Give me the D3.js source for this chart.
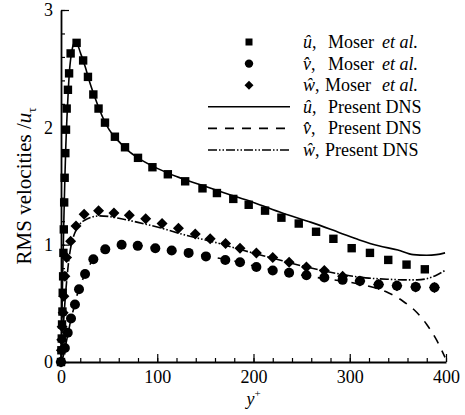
<html>
<head>
<style>
  body { margin: 0; background: #fff; }
  text { font-family: "Liberation Serif", "Times New Roman", serif; fill: #000; }
</style>
</head>
<body>
<div id="chart"></div>
<script src="https://cdn.jsdelivr.net/npm/d3@7"></script>
<script>
// u-hat, Moser et al. (squares)
var uMoserY = [0, 0.4, 0.8, 1.1, 1.5, 1.8, 2.2, 2.5, 2.9, 3.3, 3.8, 4.5, 5.2, 5.9, 7.2, 8.4, 10, 16.2,
               23, 28, 33.6, 39, 45.7, 56, 66.5, 80, 95, 111, 129, 147, 162, 179, 195, 212, 229, 247,
               265, 283, 302, 321, 340, 359, 378];
var uMoser  = [0, 0.1, 0.2, 0.32, 0.43, 0.59, 0.73, 0.93, 1.13, 1.36, 1.57, 1.78, 1.98, 2.16, 2.32, 2.46, 2.63, 2.72,
               2.57, 2.43, 2.28, 2.16, 2.04, 1.92, 1.83, 1.74, 1.66, 1.60, 1.54, 1.48, 1.44, 1.39, 1.34, 1.29, 1.23, 1.18,
               1.11, 1.05, 0.97, 0.93, 0.87, 0.83, 0.79];

// v-hat, Moser et al. (circles)
var vMoserY = [0, 4, 7, 10.4, 14.5, 18.7, 25, 33.6, 46, 63, 79.7, 98, 115, 132.6, 150.6, 170.7, 186, 203,
               220, 237, 255, 273.6, 292.6, 310.6, 330, 349, 368.5, 388];
var vMoser  = [0, 0.12, 0.25, 0.37, 0.49, 0.62, 0.75, 0.875, 0.96, 1.0, 0.99, 0.97, 0.95, 0.93, 0.90, 0.87, 0.85, 0.81,
               0.78, 0.76, 0.74, 0.72, 0.70, 0.69, 0.66, 0.65, 0.64, 0.635];

// w-hat, Moser et al. (diamonds)
var wMoserY = [0, 0.4, 0.8, 1.2, 2.3, 3, 4, 5.8, 10, 15.6, 24, 39, 55, 71, 88, 105, 122, 139.5, 155, 171,
               186, 203, 220, 237, 255, 273.6, 292.6, 310.6, 330, 349, 368.5, 388];
var wMoser  = [0, 0.1, 0.19, 0.30, 0.42, 0.56, 0.73, 0.89, 1.03, 1.16, 1.26, 1.29, 1.27, 1.25, 1.22, 1.18, 1.14, 1.09, 1.05, 1.01,
               0.97, 0.93, 0.89, 0.85, 0.81, 0.78, 0.73, 0.69, 0.66, 0.65, 0.64, 0.635];

// present DNS
var uDnsY = [0, 1, 2, 3, 4, 5, 6, 7, 8, 9, 10, 12, 14.5, 17, 20, 25, 30, 35, 40, 50, 60, 70, 80, 100, 120, 145,
             170, 200, 230, 260, 290, 310, 330, 350, 366, 380, 390, 399];
var uDns  = [0, 0.42, 0.84, 1.22, 1.56, 1.84, 2.05, 2.22, 2.38, 2.5, 2.58, 2.68, 2.73, 2.71, 2.64, 2.52, 2.38, 2.26, 2.15, 1.98, 1.88, 1.80, 1.74, 1.65, 1.58, 1.51,
             1.44, 1.36, 1.27, 1.19, 1.10, 1.04, 0.99, 0.955, 0.915, 0.91, 0.915, 0.93];

var vDnsY = [0, 2, 4, 6, 8, 10, 13, 16, 20, 25, 30, 40, 50, 60, 70, 80, 100, 120, 150, 180,
             210, 240, 270, 300, 320, 340, 355, 370, 380, 390, 399];
var vDns  = [0, 0.04, 0.11, 0.19, 0.27, 0.35, 0.45, 0.55, 0.65, 0.75, 0.83, 0.93, 0.97, 0.99, 1.0, 0.995, 0.97, 0.945, 0.905, 0.86,
             0.80, 0.755, 0.715, 0.68, 0.645, 0.59, 0.52, 0.42, 0.32, 0.19, 0.04];

var wDnsY = [0, 2, 4, 6, 8, 10, 13, 16, 20, 25, 30, 40, 50, 60, 80, 100, 130, 160, 190, 220,
             250, 280, 300, 320, 340, 360, 370, 380, 390, 399];
var wDns  = [0, 0.25, 0.5, 0.7, 0.86, 0.97, 1.07, 1.13, 1.18, 1.21, 1.23, 1.245, 1.24, 1.225, 1.19, 1.15, 1.08, 1.02, 0.95, 0.885,
             0.82, 0.765, 0.735, 0.715, 0.705, 0.70, 0.70, 0.71, 0.74, 0.78];

var xMajor = [0, 100, 200, 300, 400];
var yMajor = [0, 1, 2, 3];

var width = 465, height = 415;

var svg = d3.select("#chart").append("svg")
    .attr("width", width)
    .attr("height", height);

var x = d3.scaleLinear().domain([0, 400]).range([61, 446]);
var y = d3.scaleLinear().domain([0, 3]).range([362, 10]);

function zip(xs, ys) {
  return xs.map(function(v, i) { return [v, ys[i]]; });
}

var line = d3.line()
    .x(function(d) { return x(d[0]); })
    .y(function(d) { return y(d[1]); })
    .curve(d3.curveMonotoneX);

// axes, ticks pointing inward
var xMinor = d3.range(0, 401, 20);
var yMinorT = d3.range(0, 3.01, 0.2);

svg.append("g")
   .attr("transform", "translate(0," + y(0) + ")")
   .call(d3.axisBottom(x).tickValues(xMinor).tickSize(-4).tickFormat(""))
   .call(function(g) { g.select(".domain").remove(); });

svg.append("g")
   .attr("transform", "translate(" + x(0) + ",0)")
   .call(d3.axisLeft(y).tickValues(yMinorT).tickSize(-4).tickFormat(""))
   .call(function(g) { g.select(".domain").remove(); });

var xAxis = svg.append("g")
   .attr("transform", "translate(0," + y(0) + ")")
   .call(d3.axisBottom(x).tickValues(xMajor).tickSizeInner(-8).tickSizeOuter(0).tickPadding(8));

var yAxis = svg.append("g")
   .attr("transform", "translate(" + x(0) + ",0)")
   .call(d3.axisLeft(y).tickValues(yMajor).tickSizeInner(-8).tickSizeOuter(0).tickPadding(8).tickFormat(d3.format("d")));

svg.selectAll(".tick line").attr("stroke", "#000").attr("stroke-width", 1.2);
svg.selectAll(".domain").attr("stroke", "#000").attr("stroke-width", 1.8);
svg.selectAll(".tick text")
   .style("font-family", "'Liberation Serif', serif")
   .style("font-size", "18px")
   .attr("fill", "#000");

// axis titles
var xl = svg.append("text")
   .attr("x", x(200))
   .attr("y", 405)
   .attr("text-anchor", "middle")
   .style("font-size", "18px");
xl.append("tspan").style("font-style", "italic").text("y");
xl.append("tspan").attr("dy", -8).style("font-size", "11px").text("+");

var yl = svg.append("text")
   .attr("transform", "translate(31," + y(1.5) + ") rotate(-90)")
   .attr("text-anchor", "middle")
   .style("font-size", "21px");
yl.append("tspan").text("RMS velocities /");
yl.append("tspan").style("font-style", "italic").text("u");
yl.append("tspan").attr("dy", 5).style("font-size", "13px").text("\u03c4");

// DNS curves
svg.append("path")
   .datum(zip(uDnsY, uDns))
   .attr("d", line)
   .attr("fill", "none").attr("stroke", "#000").attr("stroke-width", 1.6);

svg.append("path")
   .datum(zip(vDnsY, vDns))
   .attr("d", line)
   .attr("fill", "none").attr("stroke", "#000").attr("stroke-width", 1.6)
   .attr("stroke-dasharray", "9,8");

svg.append("path")
   .datum(zip(wDnsY, wDns))
   .attr("d", line)
   .attr("fill", "none").attr("stroke", "#000").attr("stroke-width", 1.6)
   .attr("stroke-dasharray", "9,2,1.5,2,1.5,2");

// Moser markers
function diamond(cx, cy, r) {
  return "M" + cx + "," + (cy - r) + "L" + (cx + r) + "," + cy + "L" + cx + "," + (cy + r) + "L" + (cx - r) + "," + cy + "Z";
}

svg.append("g").selectAll("path")
   .data(zip(wMoserY, wMoser))
   .enter().append("path")
   .attr("d", function(d) { return diamond(x(d[0]), y(d[1]), 5.5); })
   .attr("fill", "#000");

svg.append("g").selectAll("circle")
   .data(zip(vMoserY, vMoser))
   .enter().append("circle")
   .attr("cx", function(d) { return x(d[0]); })
   .attr("cy", function(d) { return y(d[1]); })
   .attr("r", 5)
   .attr("fill", "#000");

svg.append("g").selectAll("rect")
   .data(zip(uMoserY, uMoser))
   .enter().append("rect")
   .attr("x", function(d) { return x(d[0]) - 4.2; })
   .attr("y", function(d) { return y(d[1]) - 4.2; })
   .attr("width", 8.4)
   .attr("height", 8.4)
   .attr("fill", "#000");

// legend
var legendRows = [
  {sym: "u", src: "Moser", kind: "square"},
  {sym: "v", src: "Moser", kind: "circle"},
  {sym: "w", src: "Moser", kind: "diamond"},
  {sym: "u", src: "Present DNS", kind: "solid"},
  {sym: "v", src: "Present DNS", kind: "dash"},
  {sym: "w", src: "Present DNS", kind: "dashdot"}
];

var legend = svg.append("g").attr("class", "legend");

legendRows.forEach(function(r, i) {
  var cy = 42 + i * 21.6;
  var g = legend.append("g");
  if (r.kind == "square") {
    g.append("rect").attr("x", 245.5).attr("y", cy - 3.5).attr("width", 7).attr("height", 7).attr("fill", "#000");
  } else if (r.kind == "circle") {
    g.append("circle").attr("cx", 249).attr("cy", cy).attr("r", 4.2).attr("fill", "#000");
  } else if (r.kind == "diamond") {
    g.append("path").attr("d", diamond(249, cy, 4.5)).attr("fill", "#000");
  } else {
    var l = g.append("line").attr("x1", 208).attr("x2", 290).attr("y1", cy).attr("y2", cy)
      .attr("stroke", "#000").attr("stroke-width", 1.6);
    if (r.kind == "dash") l.attr("stroke-dasharray", "9,8");
    if (r.kind == "dashdot") l.attr("stroke-dasharray", "9,2,1.5,2,1.5,2");
  }
  var t = g.append("text").attr("x", 303).attr("y", cy + 6).style("font-size", "18px");
  t.append("tspan").style("font-style", "italic").text(r.sym + "\u0302");
  t.append("tspan").text(",");
  g.append("text").attr("x", r.sym == "w" ? 325 : 328).attr("y", cy + 6).style("font-size", "18px").text(r.src);
  if (r.src == "Moser") {
    g.append("text").attr("x", 382).attr("y", cy + 6).style("font-size", "18px")
     .style("font-style", "italic").text("et al.");
  }
});
</script>
</body>
</html>
